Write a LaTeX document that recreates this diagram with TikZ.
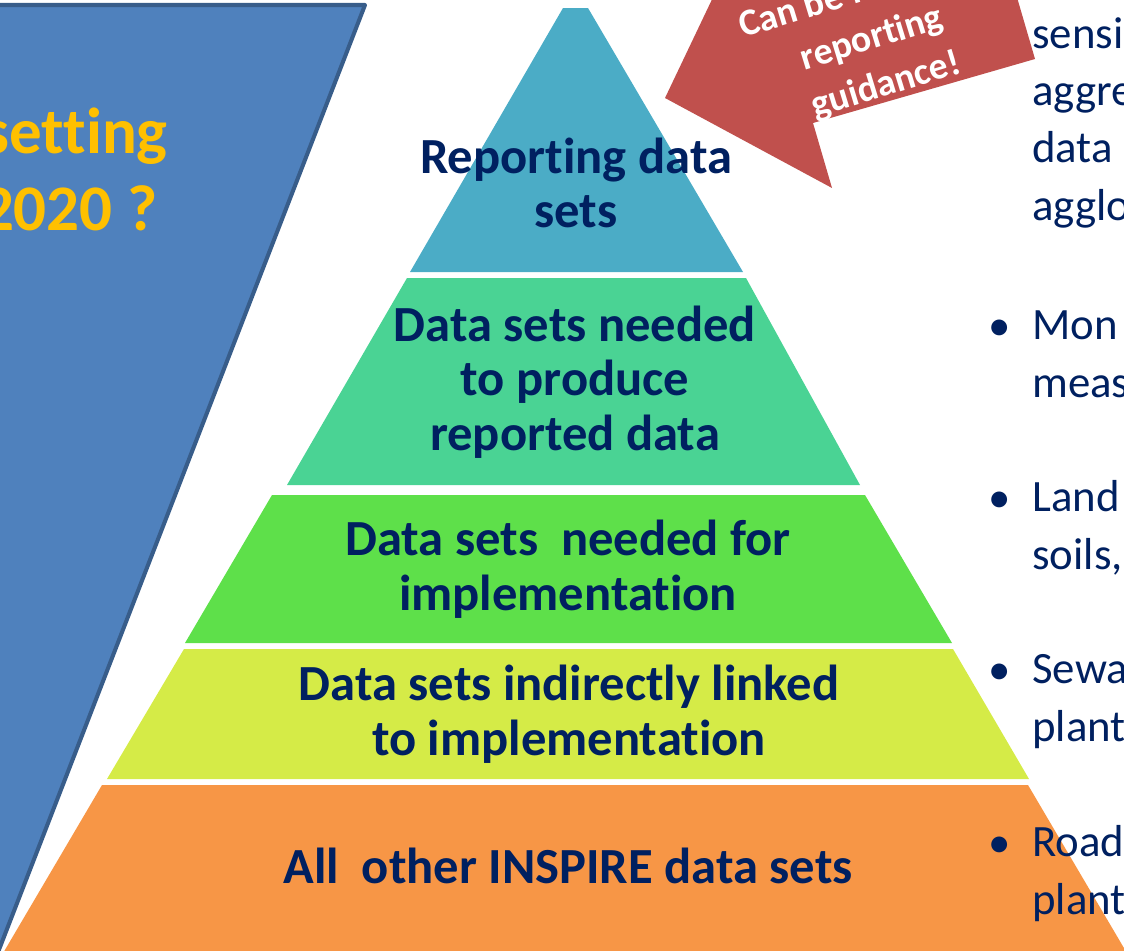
\documentclass[tikz,border=0pt]{standalone}
\usepackage{fontspec}
\setmainfont{Carlito}[Ligatures=NoCommon]
\usepackage{tikz}
\usetikzlibrary{positioning}

\definecolor{sideblue}{HTML}{4F81BD}
\definecolor{sideedge}{HTML}{385D8A}
\definecolor{lvlA}{HTML}{4BACC6}
\definecolor{lvlB}{HTML}{4AD394}
\definecolor{lvlC}{HTML}{5EE04A}
\definecolor{lvlD}{HTML}{D5EB47}
\definecolor{lvlE}{HTML}{F79646}
\definecolor{navy}{HTML}{002060}
\definecolor{gold}{HTML}{FFC000}
\definecolor{callred}{HTML}{C0504D}

\begin{document}
\begin{tikzpicture}[x=0.02cm,y=-0.02cm,
 layer/.style={text=navy,align=center,font=\bfseries\fontsize{28.8}{31}\selectfont},
 side/.style={text=navy,align=left,anchor=base west,inner sep=0pt,font=\fontsize{25.5}{32.6}\selectfont},
 dot/.style={text=navy,anchor=base,inner sep=0pt,font=\fontsize{25.5}{32.6}\selectfont}]
 \useasboundingbox (0,0) rectangle (1124,950);
 \clip (0,0) rectangle (1124,950);

 % left panel
 \fill[sideblue] (-20,5) -- (365,5) -- (-5,960) -- (-20,960) -- cycle;
 \draw[sideedge,line width=2.3pt,line join=round] (-20,5) -- (365,5) -- (-5,960);
 \node[text=gold,align=right,anchor=base east,inner sep=0pt,
 font=\bfseries\fontsize{37}{43.6}\selectfont] (goal) at (168,230) {setting\\2020 ?\kern0.2cm};

 % pyramid bands
 \foreach \ya/\xa/\xb/\yb/\xc/\xd/\col in
 {8/563/588/272/410/743/lvlA, 278/407/746/485/287/860/lvlB,
 495/272/865/643/185/952/lvlC, 649/184/953/779/107/1029/lvlD,
 785/102/1028/960/-1/1131/lvlE}
 \fill[\col] (\xa,\ya) -- (\xb,\ya) -- (\xd,\yb) -- (\xc,\yb) -- cycle;

 \node[layer] (rep)  at (576,183) {Reporting data\\sets};
 \node[layer] (prod) at (575,382) {Data sets needed\\to produce\\reported data};
 \node[layer] (impl) at (568,569) {Data sets~ needed for\\implementation};
 \node[layer] (ind)  at (569,714) {Data sets indirectly linked\\to implementation};
 \node[layer,anchor=base] (other) at (568,883) {All~ other INSPIRE data sets};

 % callout
 \fill[callred] (726,-30) -- (665,98) -- (832,188) -- (813,123) -- (1035,59) -- (1009,-30) -- cycle;
 \node[text=white,align=center,rotate=17,
 font=\bfseries\fontsize{21.5}{27.8}\selectfont] (hint) at (872,39) {Can be fo\phantom{und in}\\reporting\\guidance!};

 % right list
 \node[side] (t0) at (1032,220) {sensi\\aggre\\data\\agglo};
 \node[side] (t1) at (1032,397) {Mon\\meas};
 \node[side] (t2) at (1032,569) {Land\\soils,};
 \node[side] (t3) at (1032,741) {Sewa\\plant};
 \node[side] (t4) at (1032,914) {Road\\plant};
 \foreach \n/\yy in {b1/340,b2/512,b3/684,b4/857}
 \node[dot] (\n) at (1000,\yy) {\textbullet};
\end{tikzpicture}
\end{document}
